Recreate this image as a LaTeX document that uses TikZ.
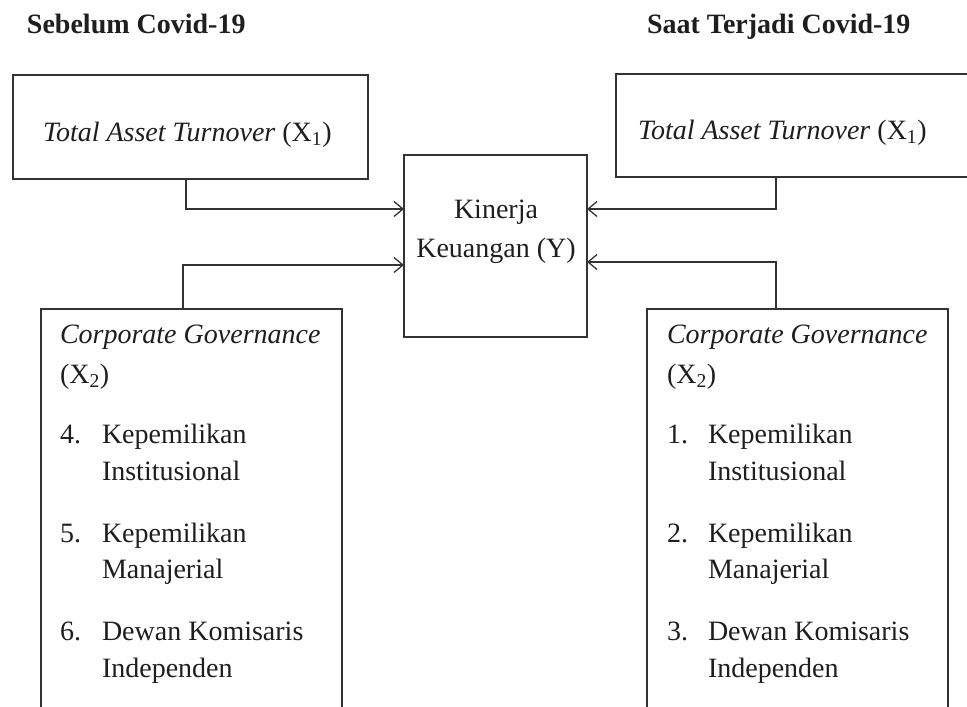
\documentclass[tikz,border=0pt]{standalone}
\usepackage{fontspec}
\setmainfont{Liberation Serif}
\usetikzlibrary{arrows.meta}
\definecolor{ink}{HTML}{1E1E1E}
\definecolor{linec}{HTML}{333333}
\begin{document}
\begin{tikzpicture}[x=1pt,y=-1pt,
  txt/.style={inner sep=0pt,outer sep=0pt,text=ink,font=\fontsize{28}{37}\selectfont,anchor=base west},
  ttl/.style={txt,font=\fontsize{28}{37}\selectfont\bfseries},
  boxc/.style={draw=linec,line width=1.5pt,inner sep=0pt,outer sep=0pt},
  arr/.style={draw=linec,line width=1.3pt,-{Straight Barb[length=9pt,width=15pt,line width=1.3pt]}}]
\useasboundingbox (0,0) rectangle (967,707);
\clip (0,0) rectangle (967,707);
% titles
\node[ttl] (t1) at (27,33) {Sebelum Covid-19};
\node[ttl] (t2) at (647,33) {Saat Terjadi Covid-19};
% boxes
\node[boxc,anchor=north west,minimum width=355pt,minimum height=104pt] (tatL) at (13,75) {};
\node[boxc,anchor=north west,minimum width=360pt,minimum height=103pt] (tatR) at (616,74) {};
\node[boxc,anchor=north west,minimum width=183pt,minimum height=182pt] (kin) at (404,155) {};
\node[boxc,anchor=north west,minimum width=301pt,minimum height=410pt] (cgL) at (41,309) {};
\node[boxc,anchor=north west,minimum width=301pt,minimum height=410pt] (cgR) at (647,309) {};
% box texts
\node[txt] (tatLt) at (43,141) {\textit{Total Asset Turnover} (X\textsubscript{1})};
\node[txt] (tatRt) at (638,139) {\textit{Total Asset Turnover} (X\textsubscript{1})};
\node[txt,anchor=base] (k1) at (496,218) {Kinerja};
\node[txt,anchor=base] (k2) at (496,257) {Keuangan (Y)};
% left CG
\node[txt] (cgL1) at (60,343) {\textit{Corporate Governance}};
\node[txt] (cgL2) at (60,383) {(X\textsubscript{2})};
\node[txt] (nL4) at (60,443) {4.};
\node[txt] (iL4a) at (102,443) {Kepemilikan};
\node[txt] (iL4b) at (102,480) {Institusional};
\node[txt] (nL5) at (60,542) {5.};
\node[txt] (iL5a) at (102,542) {Kepemilikan};
\node[txt] (iL5b) at (102,578) {Manajerial};
\node[txt] (nL6) at (60,640) {6.};
\node[txt] (iL6a) at (102,640) {Dewan Komisaris};
\node[txt] (iL6b) at (102,677) {Independen};
% right CG
\node[txt] (cgR1) at (667,343) {\textit{Corporate Governance}};
\node[txt] (cgR2) at (667,383) {(X\textsubscript{2})};
\node[txt] (nR1) at (667,443) {1.};
\node[txt] (iR1a) at (708,443) {Kepemilikan};
\node[txt] (iR1b) at (708,480) {Institusional};
\node[txt] (nR2) at (667,542) {2.};
\node[txt] (iR2a) at (708,542) {Kepemilikan};
\node[txt] (iR2b) at (708,578) {Manajerial};
\node[txt] (nR3) at (667,640) {3.};
\node[txt] (iR3a) at (708,640) {Dewan Komisaris};
\node[txt] (iR3b) at (708,677) {Independen};
% connectors
\draw[arr] (tatL.south -| 186,0) |- (kin.west |- 0,209);
\draw[arr] (cgL.north -| 183,0) |- (kin.west |- 0,265);
\draw[arr] (tatR.south -| 776,0) |- (kin.east |- 0,209);
\draw[arr] (cgR.north -| 776,0) |- (kin.east |- 0,262);
\end{tikzpicture}
\end{document}
